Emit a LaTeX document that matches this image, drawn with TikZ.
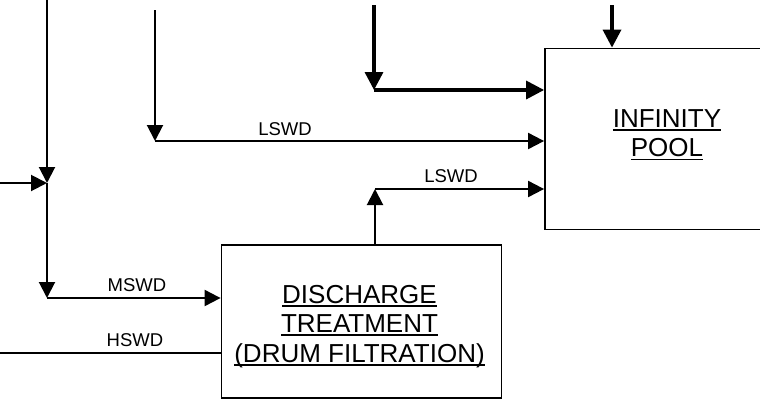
\documentclass[tikz,border=0pt]{standalone}
\usepackage{fontspec}
\setmainfont{Liberation Sans}
\newcommand\myul[1]{\setbox0\hbox{#1}\rlap{\vrule height -2.2pt depth 3.5pt width \wd0}\box0}
\usetikzlibrary{arrows.meta}
\begin{document}
\begin{tikzpicture}[x=1pt,y=-1pt,
  box/.style={draw,line width=1.8pt,inner sep=0pt},
  bigtext/.style={font=\fontsize{26}{29}\selectfont,inner sep=0pt,anchor=base},
  lbl/.style={font=\fontsize{18.5}{20}\selectfont,inner sep=0pt,anchor=base},
  thin/.style={line width=2pt},
  thk/.style={line width=3.4pt},
  tip/.style={-{Triangle[length=16pt,width=16pt]}},
  tipthk/.style={-{Triangle[length=18pt,width=18pt]}}]
\clip (0,0) rectangle (760,410);
\fill[white] (0,0) rectangle (760,410);
% boxes
\node[box,minimum width=245pt,minimum height=181pt] (pool) at (667.5,139) {};
\node[box,minimum width=280pt,minimum height=153pt] (dis) at (361.5,321.5) {};
\node[bigtext] (p1) at (667,127) {\myul{INFINITY}};
\node[bigtext] (p2) at (667,156.5) {\myul{POOL}};
\node[bigtext] (t1) at (359.5,303) {\myul{DISCHARGE}};
\node[bigtext] (t2) at (359.5,332) {\myul{TREATMENT}};
\node[bigtext] (t3) at (359.5,362) {\myul{(DRUM FILTRATION)}};
% top arrow into pool
\coordinate (a1) at (612,5);
\draw[thk,tipthk] (a1) -- (a1 |- pool.north);
% thick line
\coordinate (b1) at (374,5);
\coordinate (b2) at (374,90);
\draw[thk,tipthk] (b1) -- (b2);
\draw[thk,tipthk] (b2) -- (b2 -| pool.west);
% LSWD from top
\coordinate (c1) at (155,10);
\coordinate (c2) at (155,141);
\draw[thin,tip] (c1) -- (c2);
\draw[thin,tip] (c2) -- (c2 -| pool.west);
\node[lbl] (l1) at (285,135) {LSWD};
% LSWD from discharge
\coordinate (u1) at (375,189);
\draw[thin,tip] (dis.north -| u1) -- (u1);
\draw[thin,tip] (u1) -- (u1 -| pool.west);
\node[lbl] (l2) at (451,182.5) {LSWD};
% left feed
\coordinate (d1) at (47,0);
\coordinate (d2) at (47,183);
\coordinate (d3) at (47,298);
\coordinate (e1) at (0,183);
\draw[thin,tip] (d1) -- (d2);
\draw[thin,tip] (e1) -- (d2);
\draw[thin,tip] (d2) -- (d3);
\draw[thin,tip] (d3) -- (d3 -| dis.west);
\node[lbl] (l3) at (137,291.5) {MSWD};
% HSWD
\coordinate (f1) at (0,353);
\draw[thin] (f1) -- (f1 -| dis.west);
\node[lbl] (l4) at (135,346.5) {HSWD};
\end{tikzpicture}
\end{document}
